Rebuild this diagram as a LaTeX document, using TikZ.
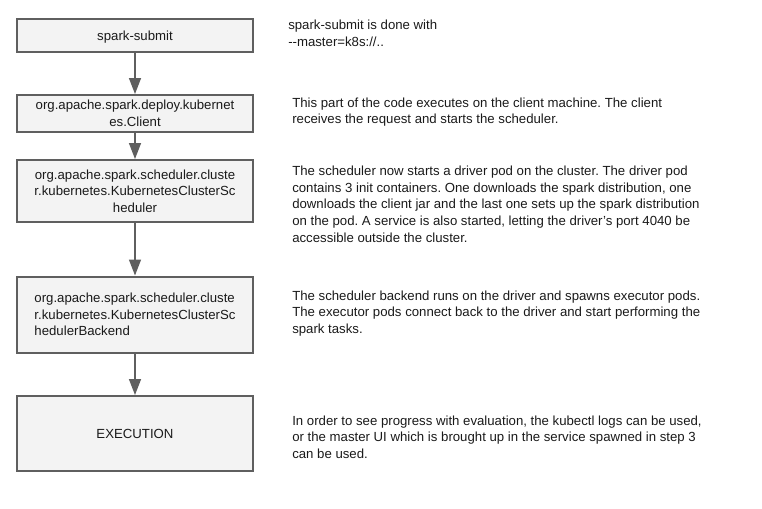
\documentclass[tikz,border=0pt]{standalone}
\usepackage{fontspec}
\setmainfont{Liberation Sans}
\usetikzlibrary{arrows.meta}
\definecolor{boxfill}{HTML}{F3F3F3}
\definecolor{boxline}{HTML}{5F5F5F}
\definecolor{txt}{HTML}{1A1A1A}
\frenchspacing
\begin{document}
\begin{tikzpicture}[x=0.75pt,y=-0.75pt,
  stepbox/.style={draw=boxline, line width=1.5pt, fill=boxfill, minimum width=177pt, inner sep=0pt,
    font=\fontsize{9.9}{12.5}\selectfont, text=txt, align=center},
  oneline/.style={text height=9pt, text depth=2pt},
  note/.style={anchor=west, inner sep=0pt, align=left, font=\fontsize{9.9}{12.5}\selectfont, text=txt},
  flow/.style={draw=boxline, line width=1.1pt, -{Triangle[length=12pt,width=9pt]}}]
\useasboundingbox (0,0) rectangle (762,508);
\node[stepbox, oneline, minimum height=24.75pt] (b1) at (135,35.5) {spark-submit};
\node[stepbox, minimum height=27.75pt] (b2) at (135,113.5) {org.apache.spark.deploy.kubernet\\es.Client};
\node[stepbox, minimum height=46.5pt] (b3) at (135,191) {org.apache.spark.scheduler.cluste\\r.kubernetes.KubernetesClusterSc\\heduler};
\node[stepbox, minimum height=57pt, align=left] (b4) at (135,314.5) {org.apache.spark.scheduler.cluste\\r.kubernetes.KubernetesClusterSc\\hedulerBackend};
\node[stepbox, oneline, minimum height=56.25pt] (b5) at (135,433.5) {EXECUTION};
\draw[flow] (b1) -- (b2);
\draw[flow] (b2) -- (b3);
\draw[flow] (b3) -- (b4);
\draw[flow] (b4) -- (b5);
\node[note] (t1) at (288,33.5) {spark-submit is done with\\-{}-master=k8s://..};
\node[note] (t2) at (292,112) {This part of the code executes on the client machine. The client\\receives the request and starts the scheduler.};
\node[note] (t3) at (292,204) {The scheduler now starts a driver pod on the cluster. The driver pod\\contains 3 init containers. One downloads the spark distribution, one\\downloads the client jar and the last one sets up the spark distribution\\on the pod. A service is also started, letting the driver’s port 4040 be\\accessible outside the cluster.};
\node[note] (t4) at (292,313.3) {The scheduler backend runs on the driver and spawns executor pods.\\The executor pods connect back to the driver and start performing the\\spark tasks.};
\node[note] (t5) at (292,437) {In order to see progress with evaluation, the kubectl logs can be used,\\or the master UI which is brought up in the service spawned in step 3\\can be used.};
\end{tikzpicture}
\end{document}
